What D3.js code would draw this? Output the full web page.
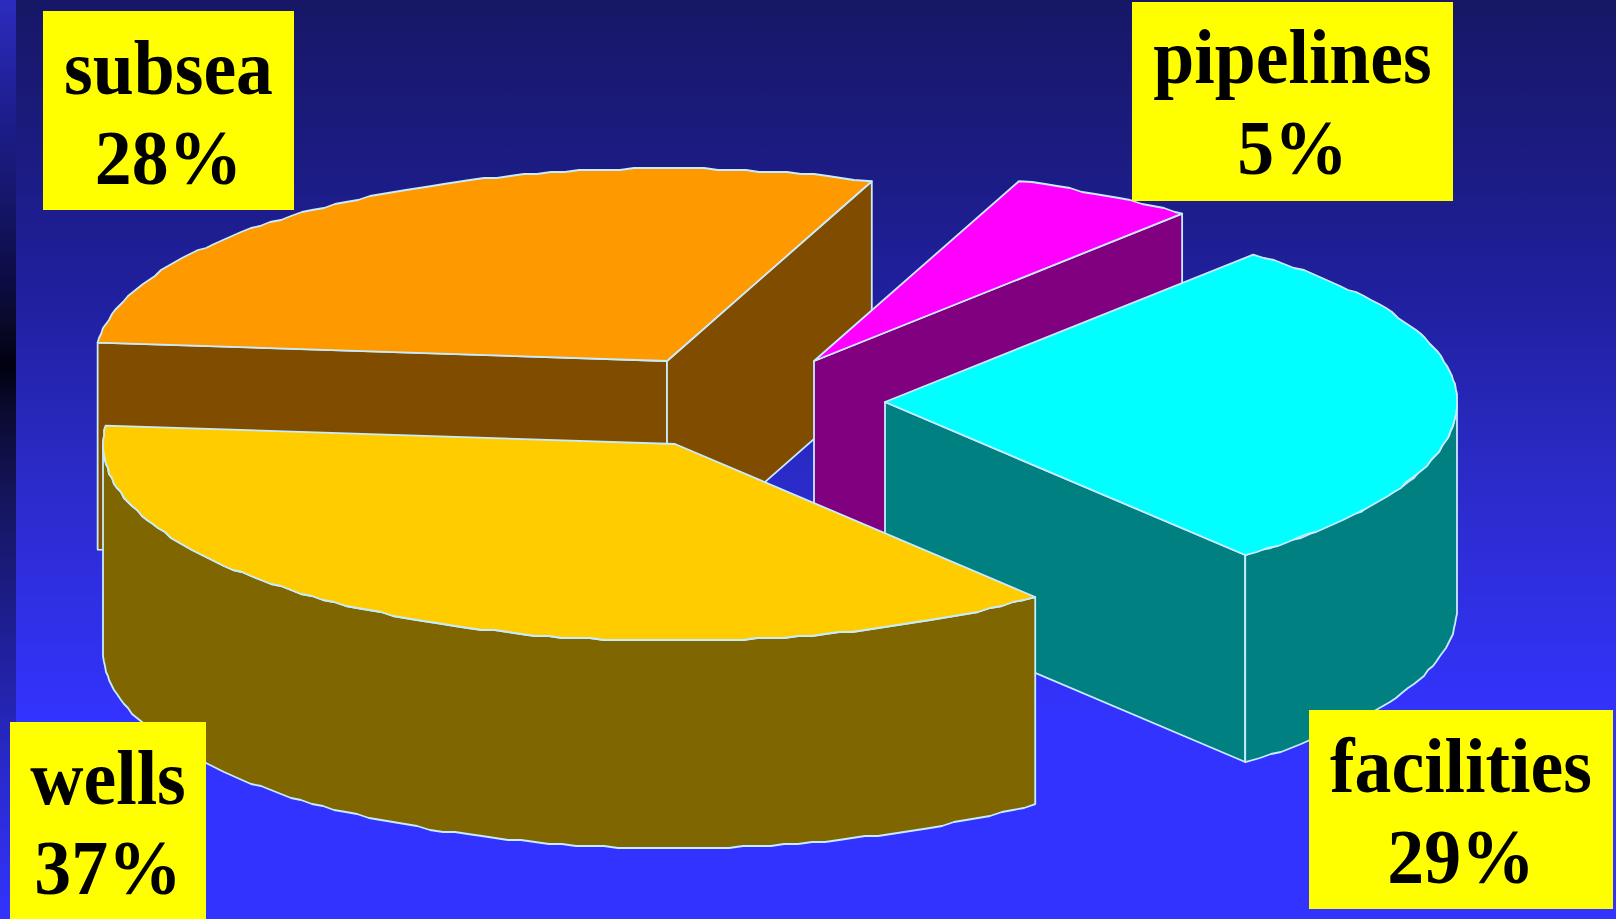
<!DOCTYPE html>
<html>
<head>
<meta charset="utf-8">
<title>Cost split</title>
<script src="https://cdn.jsdelivr.net/npm/d3@7"></script>
<style>
	html, body { margin: 0; padding: 0; background: #3333ff; overflow: hidden; }
	svg { display: block; }
	.label { font-family: "Liberation Serif", serif; font-weight: bold; font-size: 78px; text-anchor: middle; fill: #000; }
</style>
</head>
<body>
<div id="chart"></div>
<script>
/* Data */
var categories = ["subsea", "pipelines", "facilities", "wells"];
var percentLabels = [28, 5, 29, 37];
/* Share of the ellipse each slice really covers as drawn (perspective skews it a bit) */
var sliceShares = [29.3, 5.3, 28.03, 37.37];
var topColors = ["#ff9900", "#ff00ff", "#00ffff", "#ffcc00"];
var wallColors = ["#804c00", "#800080", "#008080", "#806600"];

/* Layout of the exploded pie */
var width = 1616, height = 919;
var rx = 572, ryBack = 192.5, ryFront = 197, depth = 207;
var startDeg = -84.5;
var sliceCentres = [[667, 361], [814, 361], [885, 402], [675, 444]];
var labelBoxes = [[43, 11, 251, 199], [1132, 2, 321, 199], [1309, 710, 304, 199], [10, 722, 196, 197]];
var labelBaselines = [[94, 184], [83, 174], [792, 883], [804, 894]];
var outline = "#c8ecff";

var svg = d3.select("#chart").append("svg")
	.attr("width", width)
	.attr("height", height);

/* Background gradients */
var defs = svg.append("defs");

function addGradient(id, stops) {
	var g = defs.append("linearGradient")
		.attr("id", id)
		.attr("gradientUnits", "userSpaceOnUse")
		.attr("x1", 0).attr("y1", 0)
		.attr("x2", 0).attr("y2", height);
	stops.forEach(function (s) {
		g.append("stop").attr("offset", s[0] / height).attr("stop-color", s[1]);
	});
}

addGradient("bgMain", [[0, "#171766"], [150, "#1b1b80"], [300, "#2020a0"], [460, "#2a2ac4"], [620, "#3030e8"], [720, "#3333ff"], [919, "#3333ff"]]);
addGradient("bgStrip", [[0, "#2c2cc0"], [120, "#1d1d8c"], [200, "#16166a"], [280, "#0c0c44"], [320, "#0a0a2c"], [365, "#000010"], [410, "#0a0a30"], [500, "#15155e"], [650, "#20209c"], [780, "#2a2ad0"], [919, "#3333ff"]]);

svg.append("rect").attr("width", width).attr("height", height).attr("fill", "url(#bgMain)");
svg.append("rect").attr("width", 16).attr("height", height).attr("fill", "url(#bgStrip)");

/* Slice angles come from the pie layout, 0 is straight up and angles go clockwise */
var toRad = Math.PI / 180;
var pie = d3.pie()
	.sort(null)
	.startAngle(startDeg * toRad)
	.endAngle((startDeg + 360) * toRad);
var slices = pie(sliceShares);

var xScale = d3.scaleLinear().domain([-1, 1]).range([-rx, rx]);
/* Front half of the ellipse comes out a touch deeper than the back half */
var yScale = d3.scaleLinear().domain([-1, 0, 1]).range([ryFront, 0, -ryBack]);
var line = d3.line();

function rimPoint(c, a, dy) {
	return [c[0] + xScale(Math.sin(a)), c[1] + yScale(Math.cos(a)) + (dy || 0)];
}

/* Rim of the ellipse, y snapped to a coarse grid so the edge steps like the original */
function rim(c, a0, a1, dy) {
	var step = 1.4 * toRad;
	var pts = [rimPoint(c, a0, dy)];
	d3.range(a0 + step, a1 - step / 2, step).forEach(function (a) {
		var p = rimPoint(c, a, dy);
		pts.push([Math.round(p[0]), Math.round(p[1] / 2) * 2]);
	});
	pts.push(rimPoint(c, a1, dy));
	return pts;
}

function drawFace(pts, fill) {
	svg.append("path")
		.attr("d", line(pts) + "Z")
		.attr("fill", fill)
		.attr("stroke", outline)
		.attr("stroke-width", 1.8)
		.attr("stroke-linejoin", "round");
}

/* Flat wall from the centre of a slice out to one rim point */
function drawRadialWall(c, a, fill) {
	var p = rimPoint(c, a);
	drawFace([c, p, [p[0], p[1] + depth], [c[0], c[1] + depth]], fill);
}

/* Curved wall along the front of the rim */
function drawOuterWall(c, a0, a1, fill) {
	var upper = rim(c, a0, a1);
	var lower = rim(c, a0, a1, depth).reverse();
	drawFace(upper.concat(lower), fill);
}

function drawTop(c, d, fill) {
	drawFace([c].concat(rim(c, d.startAngle, d.endAngle)), fill);
}

/* Back to front: subsea, pipelines, facilities, wells */
slices.forEach(function (d, i) {
	var c = sliceCentres[i];
	var wall = wallColors[i];

	if (d.startAngle < -Math.PI / 4) {
		drawRadialWall(c, d.startAngle, wall);	// subsea left wall
	}
	if (d.endAngle < Math.PI) {
		drawRadialWall(c, d.endAngle, wall);
	}
	if (d.endAngle > Math.PI / 2) {
		drawOuterWall(c, Math.max(d.startAngle, Math.PI / 2), Math.min(d.endAngle, 1.5 * Math.PI), wall);
	}
	drawTop(c, d, topColors[i]);
});

/* Yellow labels sit on top of everything, text squeezed a little like the original */
function addLabelLine(cx, y, str) {
	svg.append("text").attr("class", "label")
		.attr("transform", "translate(" + cx + "," + y + ") scale(0.945,1)")
		.text(str);
}

categories.forEach(function (name, i) {
	var b = labelBoxes[i];
	var cx = b[0] + b[2] / 2;

	svg.append("rect")
		.attr("x", b[0]).attr("y", b[1])
		.attr("width", b[2]).attr("height", b[3])
		.attr("fill", "#ffff00");

	addLabelLine(cx, labelBaselines[i][0], name);
	addLabelLine(cx, labelBaselines[i][1], percentLabels[i] + "%");
});
</script>
</body>
</html>
